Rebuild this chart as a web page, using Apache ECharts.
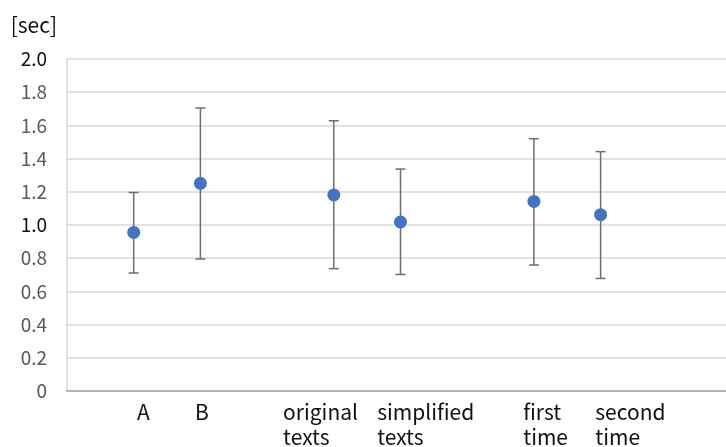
<!DOCTYPE html>
<html>
<head>
<meta charset="utf-8">
<script src="https://cdn.jsdelivr.net/npm/echarts@6/dist/echarts.min.js"></script>
<style>
html,body{margin:0;padding:0;background:#fff;}
#chart{width:726px;height:447px;}
</style>
</head>
<body>
<div id="chart"></div>
<script>
// groups and where they sit on the x scale (gaps left between pairs)
var categories = ['A', 'B', 'original\ntexts', 'simplified\ntexts', 'first\ntime', 'second\ntime'];
var slots = [1, 2, 4, 5, 7, 8];
var labelAt = [1.05, 1.92, 3.24, 4.65, 6.84, 7.92];
// mean reading time and error bar ends [sec]
var means = [0.955, 1.251, 1.181, 1.018, 1.142, 1.062];
var upper = [1.196, 1.705, 1.628, 1.337, 1.520, 1.442];
var lower = [0.711, 0.795, 0.737, 0.702, 0.759, 0.678];

var FONT = '"Noto Sans CJK JP", "Noto Sans", sans-serif';

var chart = echarts.init(document.getElementById('chart'));

var pointData = slots.map(function (s, i) { return [s, means[i]]; });
var barData = slots.map(function (s, i) { return [s, lower[i], upper[i]]; });

var option = {
	animation: false,
	grid: {
		left: 67,
		right: 0,
		top: 59,
		bottom: 56,
		outerBoundsMode: 'none',
		containLabel: false
	},
	xAxis: {
		type: 'value',
		min: 0,
		max: 9.88,
		splitLine: { show: false },
		axisTick: { show: false },
		axisLine: { lineStyle: { color: '#a6a6a6', width: 1.5 } },
		axisLabel: {
			customValues: labelAt,
			align: 'left',
			margin: 9,
			color: '#111',
			fontFamily: FONT,
			fontSize: 21,
			lineHeight: 25,
			formatter: function (v) {
				var i = labelAt.indexOf(v);
				return i < 0 ? '' : categories[i];
			}
		}
	},
	yAxis: {
		type: 'value',
		min: 0,
		max: 2,
		interval: 0.2,
		name: '[sec]',
		nameGap: 23,
		nameTextStyle: {
			align: 'right',
			padding: [0, 10, 0, 0],
			color: '#111',
			fontFamily: FONT,
			fontSize: 21
		},
		axisLine: { show: true, lineStyle: { color: '#d9d9d9', width: 1.5 } },
		axisTick: { show: false },
		splitLine: { lineStyle: { color: '#d9d9d9', width: 1.5 } },
		axisLabel: {
			margin: 20,
			fontFamily: FONT,
			fontSize: 19,
			formatter: function (v) {
				var s = v === 0 ? '0' : v.toFixed(1);
				if (v === 2 || v === 1) return '{dark|' + s + '}';
				return s;
			},
			color: '#595959',
			rich: {
				dark: { color: '#111', fontFamily: FONT, fontSize: 19 }
			}
		}
	},
	series: [{
		type: 'custom',
		data: barData,
		z: 2,
		renderItem: function (params, api) {
			var x = api.value(0);
			var lo = api.coord([x, api.value(1)]);
			var hi = api.coord([x, api.value(2)]);
			var cap = 5;
			var st = { stroke: '#6e6e6e', lineWidth: 1.5 };
			return {
				type: 'group',
				children: [
					{ type: 'line', shape: { x1: lo[0], y1: lo[1], x2: hi[0], y2: hi[1] }, style: st },
					{ type: 'line', shape: { x1: hi[0] - cap, y1: hi[1], x2: hi[0] + cap, y2: hi[1] }, style: st },
					{ type: 'line', shape: { x1: lo[0] - cap, y1: lo[1], x2: lo[0] + cap, y2: lo[1] }, style: st }
				]
			};
		}
	}, {
		type: 'scatter',
		data: pointData,
		z: 3,
		symbol: 'circle',
		symbolSize: 13,
		itemStyle: { color: '#4472c4', opacity: 1 }
	}]
};
chart.setOption(option);
</script>
</body>
</html>
